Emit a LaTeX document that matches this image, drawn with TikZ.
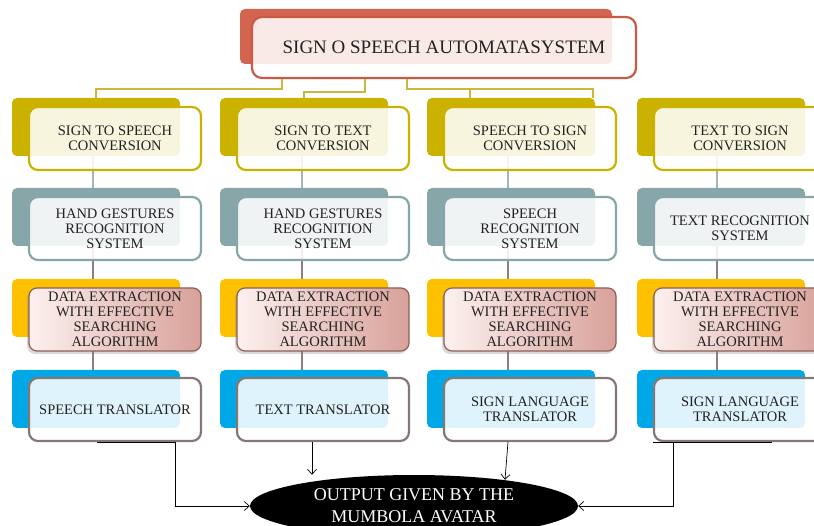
\documentclass[tikz,border=0pt]{standalone}
\usepackage{fontspec}
\setmainfont{Liberation Serif}
\usetikzlibrary{shapes.geometric,shadows,backgrounds,arrows.meta}

\definecolor{ink}{HTML}{222222}
\definecolor{titlered}{HTML}{D3644F}
\definecolor{titleline}{HTML}{C95A45}
\definecolor{gold}{HTML}{CCB200}
\definecolor{goldline}{HTML}{CDB63A}
\definecolor{slate}{HTML}{86A6A9}
\definecolor{amber}{HTML}{FFC000}
\definecolor{sky}{HTML}{00A8E8}
\definecolor{rosefade}{HTML}{FCF1F0}
\definecolor{rosebox}{HTML}{D8A199}
\definecolor{roseline}{HTML}{8E5E58}
\definecolor{taupe}{HTML}{857874}
\definecolor{linkpale}{HTML}{A3B6B8}
\definecolor{linkdark}{HTML}{8C7F7C}

\newcommand{\boxtxt}{\fontsize{14.5}{15}\selectfont}

\begin{document}
\begin{tikzpicture}[x=1pt,y=-1pt,
  back/.style={fill=#1, rounded corners=5pt, minimum width=168pt, minimum height=58pt, inner sep=0pt},
  front/.style={draw=#1, line width=2.2pt, fill=white, fill opacity=0.87, text opacity=1,
    rounded corners=9pt, minimum width=172pt, minimum height=63pt, inner sep=0pt,
    align=center, font=\boxtxt, text=ink},
  search/.style={draw=roseline, line width=1.2pt, left color=rosefade, right color=rosebox,
    rounded corners=8pt, drop shadow={shadow xshift=-2pt, shadow yshift=-3pt, opacity=0.3},
    minimum width=172pt, minimum height=63pt, inner sep=0pt, align=center, font=\boxtxt, text=ink},
  toplink/.style={draw=goldline, line width=2pt},
  link/.style={draw=#1, line width=2.5pt},
  outarrow/.style={draw=black, line width=0.7pt, -{Straight Barb[length=5pt,width=9pt]}}]
\useasboundingbox (0,0) rectangle (814,526);
\clip (0,0) rectangle (814,526);

% title
\node[fill=titlered, rounded corners=5pt, minimum width=372pt, minimum height=55pt] (tb) at (426,36.5) {};
\node[draw=titleline, line width=2.2pt, fill=white, fill opacity=0.87, text opacity=1, rounded corners=10pt,
  minimum width=384pt, minimum height=61pt, font=\fontsize{19}{22}\selectfont, text=ink] (tf) at (444,47.5) {SIGN O SPEECH AUTOMATASYSTEM};

% level 1: conversions
\node[back=gold] (bk11) at (96,127) {};
\node[front=gold] (fr11) at (115,138.5) {SIGN TO SPEECH\\CONVERSION};
\node[back=gold] (bk21) at (304,127) {};
\node[front=gold] (fr21) at (323,138.5) {SIGN TO TEXT\\CONVERSION};
\node[back=gold] (bk31) at (511,127) {};
\node[front=gold] (fr31) at (530,138.5) {SPEECH TO SIGN\\CONVERSION};
\node[back=gold] (bk41) at (721,127) {};
\node[front=gold] (fr41) at (740,138.5) {TEXT TO SIGN\\CONVERSION};

% level 2: recognition
\node[back=slate] (bk12) at (96,217) {};
\node[front=slate] (fr12) at (115,228.5) {HAND GESTURES\\RECOGNITION\\SYSTEM};
\node[back=slate] (bk22) at (304,217) {};
\node[front=slate] (fr22) at (323,228.5) {HAND GESTURES\\RECOGNITION\\SYSTEM};
\node[back=slate] (bk32) at (511,217) {};
\node[front=slate] (fr32) at (530,228.5) {SPEECH\\RECOGNITION\\SYSTEM};
\node[back=slate] (bk42) at (721,217) {};
\node[front=slate] (fr42) at (740,228.5) {TEXT RECOGNITION\\SYSTEM};

% level 3: searching
\node[back=amber] (bk13) at (96,308) {};
\node[search] (fr13) at (115,319.5) {DATA EXTRACTION\\WITH EFFECTIVE\\SEARCHING\\ALGORITHM};
\node[back=amber] (bk23) at (304,308) {};
\node[search] (fr23) at (323,319.5) {DATA EXTRACTION\\WITH EFFECTIVE\\SEARCHING\\ALGORITHM};
\node[back=amber] (bk33) at (511,308) {};
\node[search] (fr33) at (530,319.5) {DATA EXTRACTION\\WITH EFFECTIVE\\SEARCHING\\ALGORITHM};
\node[back=amber] (bk43) at (721,308) {};
\node[search] (fr43) at (740,319.5) {DATA EXTRACTION\\WITH EFFECTIVE\\SEARCHING\\ALGORITHM};

% level 4: translators
\node[back=sky] (bk14) at (96,399) {};
\node[front=taupe] (fr14) at (115,409.5) {SPEECH TRANSLATOR};
\node[back=sky] (bk24) at (304,399) {};
\node[front=taupe] (fr24) at (323,409.5) {TEXT TRANSLATOR};
\node[back=sky] (bk34) at (511,399) {};
\node[front=taupe] (fr34) at (530,409.5) {SIGN LANGUAGE\\TRANSLATOR};
\node[back=sky] (bk44) at (721,399) {};
\node[front=taupe] (fr44) at (740,409.5) {SIGN LANGUAGE\\TRANSLATOR};

% output
\node[ellipse, fill=black, text=white, minimum width=328pt, minimum height=62pt, inner sep=0pt,
  align=center, font=\fontsize{18}{22}\selectfont] (out) at (414,506) {OUTPUT GIVEN BY THE\\MUMBOLA AVATAR};

% title to conversions
\draw[toplink] ([xshift=31pt]tf.south west) -- ++(0,10) -| (bk11.north);
\draw[toplink] ([xshift=114pt]tf.south west) -- ++(0,13) -| (bk21.north);
\draw[toplink] ([xshift=156pt]tf.south west) -- ++(0,10) -| ([xshift=-2pt]bk31.north east);
\draw[toplink] ([xshift=-41pt]bk31.north) -- ++(0,-10);

% column links
\begin{scope}[on background layer]
\draw[link=linkpale] ([xshift=-3pt]bk11.south) -- ([xshift=-3pt]bk12.north);
\draw[link=linkpale] ([xshift=-2pt]bk21.south) -- ([xshift=-2pt]bk22.north);
\draw[link=linkpale] ([xshift=-3pt]bk31.south) -- ([xshift=-3pt]bk32.north);
\draw[link=linkpale] ([xshift=-4pt]bk41.south) -- ([xshift=-4pt]bk42.north);
\draw[link=linkdark] ([xshift=-3pt]bk12.south) -- ([xshift=-3pt]bk13.north);
\draw[link=linkdark] ([xshift=-2pt]bk22.south) -- ([xshift=-2pt]bk23.north);
\draw[link=linkdark] ([xshift=-3pt]bk32.south) -- ([xshift=-3pt]bk33.north);
\draw[link=linkdark] ([xshift=-4pt]bk42.south) -- ([xshift=-4pt]bk43.north);
\draw[link=linkdark] ([xshift=-3pt]bk13.south) -- ([xshift=-3pt]bk14.north);
\draw[link=linkdark] ([xshift=-2pt]bk23.south) -- ([xshift=-2pt]bk24.north);
\draw[link=linkdark] ([xshift=-3pt]bk33.south) -- ([xshift=-3pt]bk34.north);
\draw[link=linkdark] ([xshift=-4pt]bk43.south) -- ([xshift=-4pt]bk44.north);
\end{scope}

% translators to output
\draw[outarrow] ([xshift=-18pt]fr14.south) -- ([xshift=60pt]fr14.south) |- (out.west);
\draw[outarrow] ([xshift=-11pt]fr24.south) -- ([xshift=-11pt]fr24.south |- out.north);
\draw[outarrow] ([xshift=-22pt]fr34.south) -- ([shift={(91pt,-5pt)}]out.north);
\draw[line width=0.7pt] ([xshift=-87pt]fr44.south) -- ([xshift=32pt]fr44.south);
\draw[outarrow] ([xshift=-67pt]fr44.south) |- (out.east);

\end{tikzpicture}
\end{document}
